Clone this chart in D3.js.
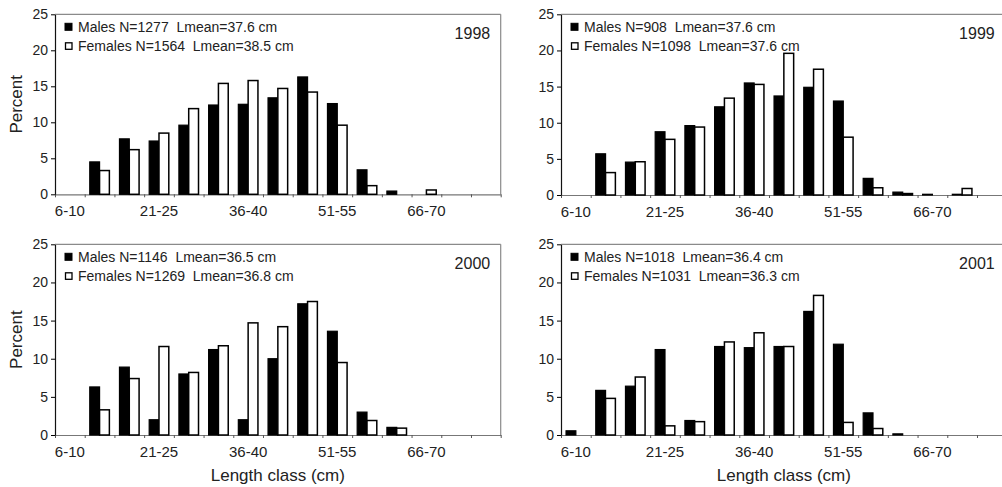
<!DOCTYPE html>
<html>
<head>
<meta charset="utf-8">
<script src="https://cdn.jsdelivr.net/npm/d3@7"></script>
<style>
  html, body { margin: 0; padding: 0; background: #fff; }
  svg { display: block; font-family: "Liberation Sans", Arial, sans-serif; }
  text { white-space: pre; fill: #222; }
</style>
</head>
<body>
<svg id="chart" width="1002" height="487"></svg>
<script>
// ---------- DATA ----------
const categories = ["6-10","11-15","16-20","21-25","26-30","31-35","36-40","41-45","46-50","51-55","56-60","61-65","66-70","71-75","76-80"];
const xTickLabels = ["6-10","21-25","36-40","51-55","66-70"];
const yTicks = [0, 5, 10, 15, 20, 25];
const years = ["1998", "1999", "2000", "2001"];

const males1998   = [0, 4.5, 7.7, 7.4, 9.6, 12.4, 12.5, 13.4, 16.3, 12.6, 3.4, 0.45, 0, 0, 0];
const females1998 = [0, 3.3, 6.2, 8.5, 11.9, 15.4, 15.8, 14.7, 14.2, 9.6, 1.2, 0, 0.6, 0, 0];
const males1999   = [0, 5.7, 4.55, 8.75, 9.6, 12.2, 15.5, 13.7, 14.9, 13.0, 2.3, 0.4, 0.1, 0.1, 0];
const females1999 = [0, 3.1, 4.6, 7.7, 9.4, 13.4, 15.3, 19.6, 17.4, 8.0, 1.0, 0.2, 0, 0.9, 0];
const males2000   = [0, 6.3, 8.9, 2.0, 8.0, 11.2, 2.0, 10.0, 17.2, 13.6, 3.0, 1.0, 0, 0, 0];
const females2000 = [0, 3.3, 7.4, 11.6, 8.2, 11.7, 14.7, 14.2, 17.5, 9.5, 1.9, 0.9, 0, 0, 0];
const males2001   = [0.55, 5.85, 6.4, 11.2, 1.9, 11.6, 11.45, 11.6, 16.2, 11.9, 2.9, 0.15, 0, 0, 0];
const females2001 = [0, 4.8, 7.6, 1.2, 1.75, 12.2, 13.4, 11.6, 18.3, 1.65, 0.85, 0, 0, 0, 0];

const maleLegend   = ["Males N=1277  Lmean=37.6 cm", "Males N=908  Lmean=37.6 cm", "Males N=1146  Lmean=36.5 cm", "Males N=1018  Lmean=36.4 cm"];
const femaleLegend = ["Females N=1564  Lmean=38.5 cm", "Females N=1098  Lmean=37.6 cm", "Females N=1269  Lmean=36.8 cm", "Females N=1031  Lmean=36.3 cm"];

const yTitle = "Percent";
const xTitle = "Length class (cm)";

// ---------- LAYOUT ----------
const maleSeries = [males1998, males1999, males2000, males2001];
const femaleSeries = [females1998, females1999, females2000, females2001];
const panelPos = [
  {x: 55,  top: 14.3,  bottom: 194.3, yLabel: true,  xLabel: false},
  {x: 561, top: 14.3,  bottom: 195,   yLabel: false, xLabel: false},
  {x: 55,  top: 244.3, bottom: 435,   yLabel: true,  xLabel: true},
  {x: 561, top: 244.3, bottom: 435,   yLabel: false, xLabel: true}
];
const W = 445.7;
const keepSpaces = s => s.replace(/ {2}/g, " \u00a0");

const svg = d3.select("#chart");

years.forEach((yr, i) => {
  const p = panelPos[i];
  const H = p.bottom - p.top;
  const g = svg.append("g").attr("transform", `translate(${p.x},${p.top})`);

  const x = d3.scaleBand().domain(categories).range([0, W]).padding(0);
  const bw = x.bandwidth();
  const xs = d3.scaleBand().domain(["M", "F"]).range([bw * 0.17, bw * 0.83]).padding(0);
  const xb = d3.scaleLinear().domain([0, categories.length]).range([0, W]);
  const y = d3.scaleLinear().domain([0, 25]).range([H, 0]);

  // frame top & right
  g.append("line").attr("x1", 0).attr("x2", W).attr("y1", 0).attr("y2", 0)
    .attr("stroke", "#8a8a8a").attr("stroke-width", 1.2);
  g.append("line").attr("x1", W).attr("x2", W).attr("y1", 0).attr("y2", H)
    .attr("stroke", "#8a8a8a").attr("stroke-width", 1.2);

  // x axis line + boundary ticks
  const xAxisG = g.append("g").attr("transform", `translate(0,${H})`)
    .call(d3.axisBottom(xb).tickValues(d3.range(0, categories.length + 1)).tickSize(3).tickSizeOuter(0).tickFormat(""));
  xAxisG.select(".domain").attr("stroke", "#777").attr("stroke-width", 1.2);
  xAxisG.selectAll(".tick line").attr("stroke", "#555");

  // x labels
  const xLabG = g.append("g").attr("transform", `translate(0,${H})`)
    .call(d3.axisBottom(x).tickValues(xTickLabels).tickSize(0).tickPadding(11));
  xLabG.select(".domain").remove();
  xLabG.selectAll("text").attr("font-size", 15).attr("fill", "#222")
    .attr("font-family", "Liberation Sans, Arial, sans-serif");

  // bars
  const rows = categories.map((c, k) => ({c, m: maleSeries[i][k], f: femaleSeries[i][k]}));
  const bars = g.append("g");
  bars.selectAll("rect.m").data(rows.filter(d => d.m > 0)).join("rect")
    .attr("class", "m")
    .attr("x", d => x(d.c) + xs("M"))
    .attr("width", xs.bandwidth())
    .attr("y", d => y(d.m))
    .attr("height", d => y(0) - y(d.m))
    .attr("fill", "#000").attr("stroke", "#000").attr("stroke-width", 1.2);
  bars.selectAll("rect.f").data(rows.filter(d => d.f > 0)).join("rect")
    .attr("class", "f")
    .attr("x", d => x(d.c) + xs("F"))
    .attr("width", xs.bandwidth())
    .attr("y", d => y(d.f))
    .attr("height", d => y(0) - y(d.f))
    .attr("fill", "#fff").attr("stroke", "#000").attr("stroke-width", 1.5);

  // y axis
  const yAxisG = g.append("g")
    .call(d3.axisLeft(y).tickValues(yTicks).tickSize(4).tickSizeOuter(0).tickPadding(3));
  yAxisG.select(".domain").attr("stroke", "#111").attr("stroke-width", 1.2);
  yAxisG.selectAll("text").attr("font-size", 14).attr("fill", "#222")
    .attr("font-family", "Liberation Sans, Arial, sans-serif");

  // legend
  const lg = g.append("g");
  lg.append("rect").attr("x", 10).attr("y", 9).attr("width", 7).attr("height", 7)
    .attr("fill", "#000").attr("stroke", "#000").attr("stroke-width", 1);
  lg.append("text").attr("x", 23).attr("y", 12.5).attr("dy", "0.35em")
    .attr("font-size", 14).text(keepSpaces(maleLegend[i]));
  lg.append("rect").attr("x", 10.5).attr("y", 28.5).attr("width", 6.5).attr("height", 6.5)
    .attr("fill", "#fff").attr("stroke", "#000").attr("stroke-width", 1.3);
  lg.append("text").attr("x", 23).attr("y", 32).attr("dy", "0.35em")
    .attr("font-size", 14).text(keepSpaces(femaleLegend[i]));

  // year
  g.append("text").attr("x", i % 2 === 0 ? W - 10.5 : W - 12).attr("y", 19).attr("dy", "0.35em")
    .attr("text-anchor", "end").attr("font-size", 16).text(yr);

  if (p.yLabel) {
    g.append("text")
      .attr("transform", `translate(${17 - p.x + 5},${H / 2}) rotate(-90)`)
      .attr("text-anchor", "middle").attr("font-size", 17).text(yTitle);
  }
  if (p.xLabel) {
    g.append("text").attr("x", W / 2).attr("y", H + 46.5)
      .attr("text-anchor", "middle").attr("font-size", 17).text(xTitle);
  }
});
</script>
</body>
</html>
